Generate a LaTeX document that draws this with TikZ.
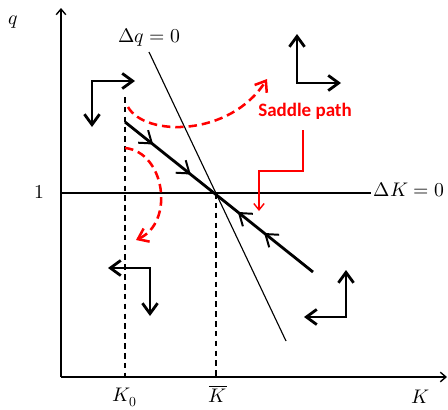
\documentclass[tikz,border=0pt]{standalone}
\usepackage{fontspec}
\usepackage{unicode-math}
\newfontfamily\calfont{Carlito}
\usepackage{tikz}
\usetikzlibrary{arrows.meta,decorations.markings}

\definecolor{sadred}{RGB}{255,0,0}

\begin{document}
\begin{tikzpicture}[
  x=0.025cm, y=-0.025cm,
  axis/.style={line width=1pt, -{Straight Barb[length=1.4mm,width=2.4mm]}},
  locus/.style={line width=0.8pt},
  guide/.style={line width=1.1pt, dash pattern=on 4pt off 3pt},
  saddle/.style={line width=2pt, postaction={decorate}, decoration={markings,
      mark=at position 0.15 with {\arrow{Straight Barb[length=2.8mm,width=4mm,line width=1.4pt]}},
      mark=at position 0.35 with {\arrow{Straight Barb[length=2.8mm,width=4mm,line width=1.4pt]}},
      mark=at position 0.60 with {\arrowreversed{Straight Barb[length=2.8mm,width=4mm,line width=1.4pt]}},
      mark=at position 0.74 with {\arrowreversed{Straight Barb[length=2.8mm,width=4mm,line width=1.4pt]}}}},
  dirarr/.style={line width=2pt, {Straight Barb[length=2.6mm,width=3.8mm]}-{Straight Barb[length=2.6mm,width=3.8mm]}},
  jump/.style={sadred, line width=1.8pt, dash pattern=on 6pt off 3.5pt, -{Straight Barb[length=2.4mm,width=3.6mm]}},
  redcon/.style={sadred, line width=1pt, -{Straight Barb[length=1.6mm,width=2.6mm]}},
  lab/.style={font=\fontsize{14}{16}\selectfont, inner sep=0pt}
]
\useasboundingbox (0,0) rectangle (448,409);

% axes
\coordinate (O) at (61,377);
\coordinate (qtop) at (61,8);
\coordinate (Kend) at (447,377);
\draw[axis] (O) -- (qtop);
\draw[axis] (O) -- (Kend);
\node[lab] (qlab) at (13,22) {$q$};
\node[lab] (Klab) at (421,397) {$K$};

% loci
\coordinate (ss) at (216,193);
\coordinate (dKa) at (61,193);
\coordinate (dKb) at (371,193);
\coordinate (dqa) at (149,52);
\coordinate (dqb) at (286,341);
\draw[locus] (dKa) -- (dKb);
\draw[locus] (dqa) -- (dqb);
\node[lab] (one) at (39,192) {$1$};
\node[lab] (dKlab) at (409,190) {$\Delta K=0$};
\node[lab] (dqlab) at (149,37) {$\Delta q=0$};

% guides
\coordinate (K0top) at (125,97);
\coordinate (K0) at (125,377);
\coordinate (Kbar) at (216,377);
\draw[guide] (K0top) -- (K0);
\draw[guide] (ss) -- (Kbar);
\node[lab] (K0lab) at (125,397) {$K_0$};
\node[lab] (Kbarlab) at (218,394) {$\overline{K}$};

% saddle path
\coordinate (sa) at (125,122);
\coordinate (sb) at (313,272);
\draw[saddle] (sa) -- (sb);

% jumps off the saddle path
\coordinate (ja) at (128,107);
\coordinate (jb) at (267,79);
\coordinate (jc) at (125,148);
\coordinate (jd) at (136,240);
\draw[jump] (ja) .. controls (145,137) and (230,137) .. (jb);
\draw[jump] (jc) .. controls (165,152) and (175,222) .. (jd);

% label
\node[font=\calfont\bfseries\fontsize{13.5}{15}\selectfont, text=sadred, inner sep=0pt] (splab) at (305,111) {Saddle path};
\coordinate (sptop) at (303,130);
\coordinate (spend) at (259,211);
\draw[redcon] (sptop) |- (spend |- 0,171) -- (spend);

% directions of motion
\coordinate (c1) at (92,81);
\draw[dirarr] (92,127) -- (c1) -- (135,81);
\coordinate (c2) at (297,83);
\draw[dirarr] (297,34) -- (c2) -- (341,83);
\coordinate (c3) at (150,268);
\draw[dirarr] (108,268) -- (c3) -- (150,316);
\coordinate (c4) at (346,317);
\draw[dirarr] (346,270) -- (c4) -- (304,317);
\end{tikzpicture}
\end{document}
